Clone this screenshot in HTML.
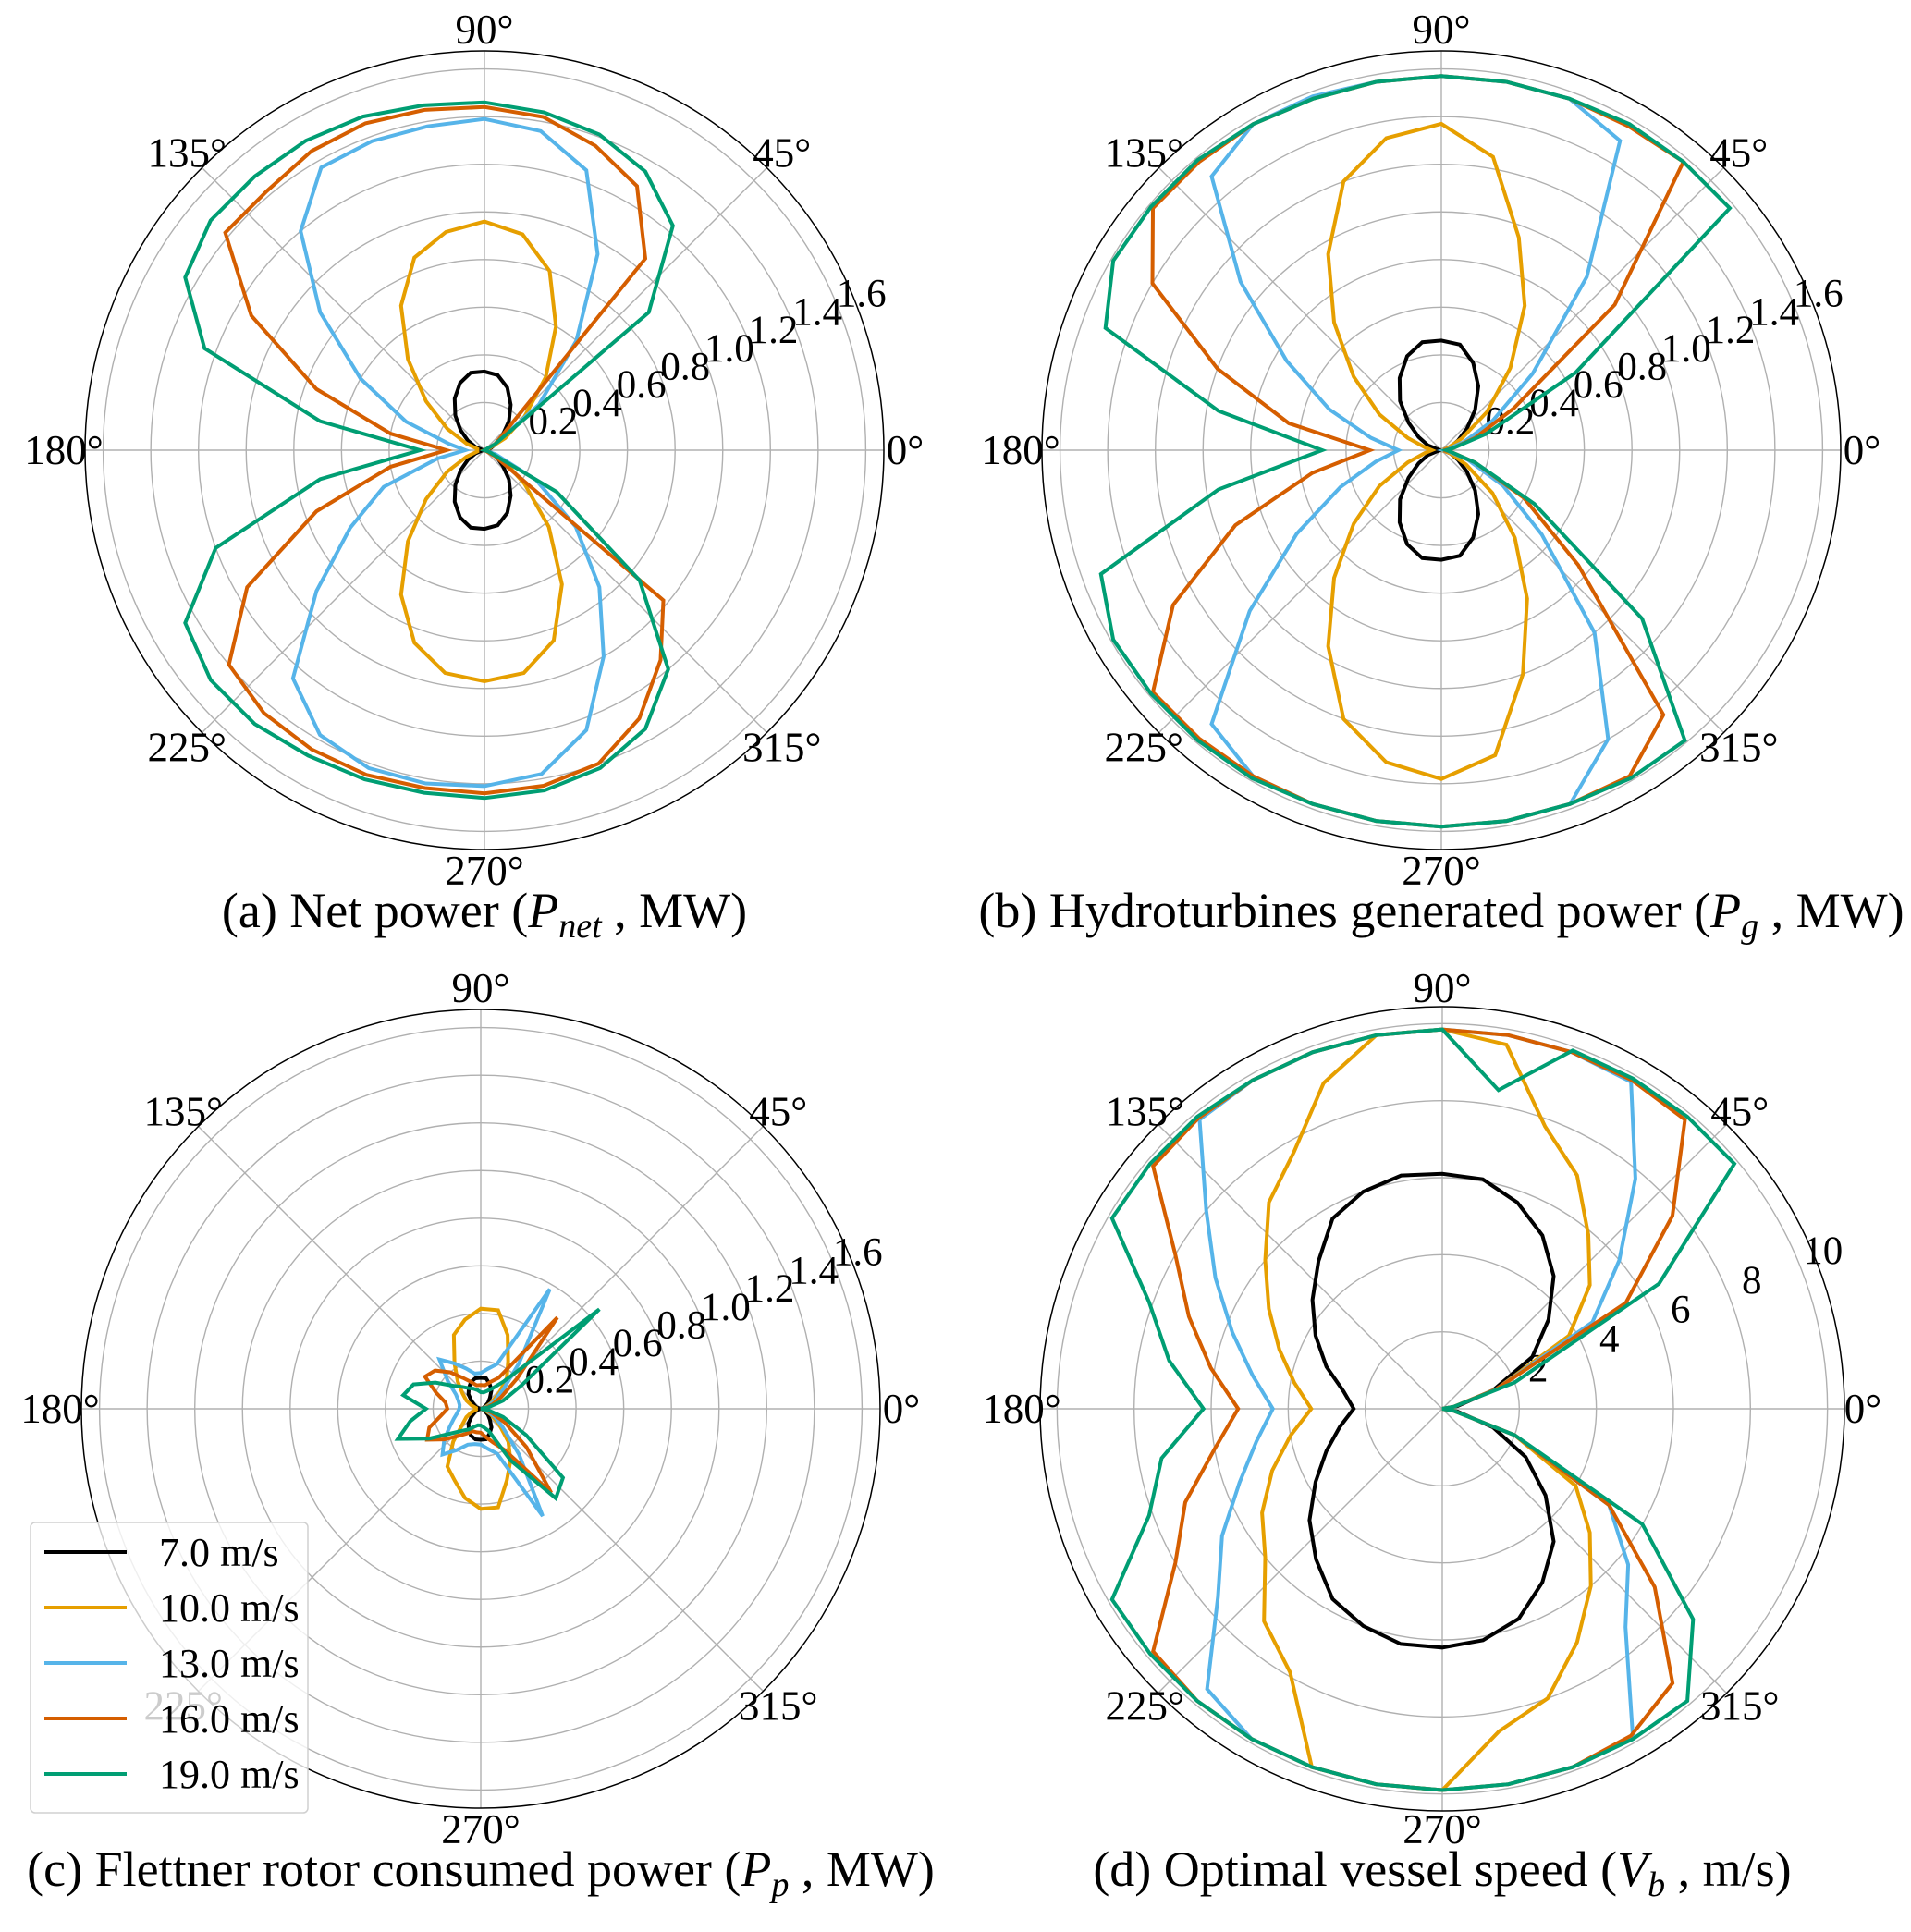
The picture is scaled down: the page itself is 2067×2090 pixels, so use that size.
<!DOCTYPE html>
<html><head><meta charset="utf-8"><style>
html,body{margin:0;padding:0;background:#fff;}
svg{display:block;font-family:"Liberation Serif",serif;}
</style></head><body>
<svg id="fig" width="2067" height="2090" viewBox="0 0 2067 2090" xmlns="http://www.w3.org/2000/svg"></svg>
<script>
const angles=[0,10,20,30,40,50,60,70,80,90,100,110,120,130,140,150,160,170,180,190,200,210,220,230,240,250,260,270,280,290,300,310,320,330,340,350];
const seriesLabels=["7.0 m/s","10.0 m/s","13.0 m/s","16.0 m/s","19.0 m/s"];
const powerTicks=[0.2,0.4,0.6,0.8,1.0,1.2,1.4,1.6];
const powerTickLabels=["0.2","0.4","0.6","0.8","1.0","1.2","1.4","1.6"];
const speedTicks=[2,4,6,8,10];
const speedTickLabels=["2","4","6","8","10"];
const angleTicks=[0,45,90,135,180,225,270,315];
const angleTickLabels=["0°","45°","90°","135°","180°","225°","270°","315°"];

const net7=[0,0.01,0.03,0.06,0.1,0.16,0.22,0.28,0.32,0.33,0.33,0.3,0.25,0.19,0.13,0.08,0.04,0.01,0,0.01,0.04,0.08,0.13,0.19,0.25,0.3,0.33,0.33,0.32,0.28,0.22,0.16,0.1,0.06,0.03,0.01];
const net10=[0,0,0.02,0.1,0.22,0.4,0.6,0.8,0.92,0.96,0.93,0.86,0.7,0.5,0.32,0.18,0.08,0.03,0.03,0.03,0.08,0.18,0.32,0.5,0.7,0.86,0.95,0.97,0.95,0.85,0.65,0.42,0.22,0.1,0.02,0];
const net13=[0,0,0,0.05,0.3,0.6,0.95,1.25,1.36,1.39,1.38,1.38,1.37,1.2,0.9,0.6,0.35,0.15,0.08,0.2,0.45,0.65,0.92,1.25,1.38,1.42,1.42,1.41,1.38,1.25,1.0,0.75,0.5,0.25,0.05,0];
const net16=[0,0,0,0.05,0.1,1.05,1.28,1.36,1.42,1.44,1.45,1.46,1.45,1.42,1.42,1.13,0.75,0.4,0.16,0.4,0.75,1.15,1.4,1.44,1.45,1.45,1.44,1.44,1.43,1.4,1.3,1.15,0.98,0.05,0,0];
const net19=[0,0,0,0.05,0.9,1.23,1.35,1.41,1.44,1.46,1.47,1.49,1.5,1.5,1.5,1.45,1.25,0.7,0.27,0.7,1.2,1.45,1.5,1.5,1.48,1.47,1.46,1.46,1.45,1.42,1.35,1.2,0.85,0.35,0.02,0];

const gen7=[0,0.01,0.04,0.08,0.14,0.22,0.31,0.39,0.45,0.46,0.46,0.42,0.35,0.27,0.18,0.11,0.06,0.01,0,0.01,0.06,0.11,0.18,0.27,0.35,0.42,0.46,0.46,0.45,0.39,0.31,0.22,0.14,0.08,0.04,0.01];
const gen10=[0,0.01,0.03,0.1,0.25,0.45,0.7,0.95,1.25,1.37,1.33,1.2,0.95,0.7,0.48,0.3,0.15,0.07,0.04,0.07,0.15,0.3,0.48,0.7,0.95,1.2,1.33,1.38,1.3,1.0,0.72,0.48,0.28,0.12,0.04,0.01];
const gen13=[0.01,0.03,0.1,0.25,0.5,0.95,1.5,1.57,1.57,1.57,1.57,1.58,1.58,1.5,1.1,0.75,0.5,0.3,0.18,0.28,0.45,0.7,1.05,1.5,1.58,1.58,1.58,1.58,1.58,1.58,1.4,1.0,0.55,0.3,0.12,0.03];
const gen16=[0.01,0.05,0.15,0.35,0.95,1.58,1.57,1.57,1.57,1.57,1.57,1.57,1.58,1.58,1.58,1.4,1.0,0.65,0.3,0.55,0.92,1.3,1.58,1.58,1.58,1.58,1.58,1.58,1.58,1.58,1.58,1.45,0.75,0.4,0.15,0.04];
const gen19=[0.02,0.05,0.2,0.65,1.58,1.58,1.58,1.57,1.57,1.57,1.57,1.57,1.58,1.59,1.59,1.59,1.5,0.95,0.5,0.95,1.52,1.59,1.59,1.59,1.59,1.58,1.58,1.58,1.58,1.58,1.59,1.59,1.1,0.45,0.15,0.04];

const rot7=[0,0,0.01,0.02,0.04,0.06,0.09,0.11,0.13,0.13,0.13,0.12,0.1,0.08,0.05,0.03,0.02,0,0,0,0.02,0.03,0.05,0.08,0.1,0.12,0.13,0.13,0.13,0.11,0.09,0.06,0.04,0.02,0.01,0];
const rot10=[0,0.01,0.02,0.05,0.1,0.17,0.23,0.33,0.42,0.42,0.38,0.33,0.22,0.15,0.1,0.07,0.04,0.02,0.02,0.02,0.04,0.07,0.1,0.18,0.28,0.32,0.38,0.42,0.42,0.32,0.25,0.18,0.1,0.05,0.02,0.01];
const rot13=[0,0.01,0.03,0.07,0.12,0.25,0.58,0.2,0.17,0.15,0.15,0.18,0.22,0.27,0.18,0.12,0.1,0.09,0.09,0.1,0.12,0.15,0.2,0.25,0.2,0.16,0.15,0.15,0.17,0.2,0.52,0.25,0.12,0.07,0.03,0.01];
const rot16=[0,0.02,0.05,0.1,0.2,0.5,0.15,0.12,0.1,0.1,0.1,0.12,0.15,0.2,0.25,0.27,0.2,0.15,0.14,0.17,0.23,0.26,0.2,0.15,0.12,0.1,0.1,0.1,0.12,0.15,0.2,0.46,0.25,0.12,0.05,0.02];
const rot19=[0,0.03,0.1,0.2,0.65,0.15,0.1,0.08,0.07,0.07,0.08,0.09,0.1,0.12,0.15,0.22,0.3,0.33,0.23,0.3,0.37,0.25,0.16,0.12,0.1,0.08,0.07,0.07,0.08,0.1,0.25,0.49,0.45,0.22,0.1,0.03];

const spd7=[0,0.4,1.4,2.7,3.6,4.5,5.2,5.7,6.05,6.1,6.15,6.0,5.7,5.0,4.4,3.8,3.2,2.6,2.3,2.7,3.2,3.8,4.5,5.1,5.7,6.0,6.2,6.2,6.1,5.8,5.2,4.5,3.5,2.5,1.4,0.4];
const spd10=[0,0.3,1.5,3.8,5.0,5.9,7.0,7.8,9.6,9.85,9.85,9.0,7.7,7.0,6.0,5.2,4.5,3.9,3.4,4.0,4.7,5.4,6.0,7.2,7.9,9.9,9.9,9.9,8.5,8.0,7.0,6.0,5.0,4.0,2.0,0.3];
const spd13=[0,0.3,1.5,4.5,6.0,7.8,9.8,9.85,9.85,9.85,9.85,9.85,9.85,9.8,8.0,6.8,5.8,5.0,4.4,4.9,5.6,6.6,7.6,9.5,9.9,9.9,9.9,9.9,9.9,9.9,9.9,7.4,6.3,5.0,2.0,0.3];
const spd16=[0,0.3,1.5,5.5,7.8,9.8,9.85,9.85,9.85,9.85,9.85,9.85,9.85,9.85,9.8,8.0,7.0,6.1,5.3,6.0,7.1,8.0,9.8,9.9,9.9,9.9,9.9,9.9,9.9,9.9,9.8,9.3,7.2,5.0,2.0,0.3];
const spd19=[0,0.3,2.0,6.5,9.9,9.9,9.9,9.9,8.4,9.85,9.85,9.85,9.85,9.9,9.9,9.9,8.1,7.2,6.2,7.4,8.1,9.9,9.9,9.9,9.9,9.9,9.9,9.9,9.9,9.9,9.9,9.9,8.5,6.0,2.0,0.3];

const colors=["#000000","#E69F00","#56B4E9","#D55E00","#009E73"];
const NS="http://www.w3.org/2000/svg";
const svg=document.getElementById("fig");
function mk(tag,attrs,parent){const e=document.createElementNS(NS,tag);for(const k in attrs)e.setAttribute(k,attrs[k]);(parent||svg).appendChild(e);return e;}

const panels=[
 {key:"a",cx:524,cy:487,R:432,rmax:1.676,ticks:powerTicks,tl:powerTickLabels,series:[net7,net10,net13,net16,net19],title:["(a) Net power (","P","net"," , MW)"]},
 {key:"b",cx:1559,cy:487,R:432,rmax:1.676,ticks:powerTicks,tl:powerTickLabels,series:[gen7,gen10,gen13,gen16,gen19],title:["(b) Hydroturbines generated power (","P","g"," , MW)"]},
 {key:"c",cx:520,cy:1524,R:432,rmax:1.676,ticks:powerTicks,tl:powerTickLabels,series:[rot7,rot10,rot13,rot16,rot19],title:["(c) Flettner rotor consumed power (","P","p"," , MW)"]},
 {key:"d",cx:1560,cy:1524,R:435,rmax:10.44,ticks:speedTicks,tl:speedTickLabels,series:[spd7,spd10,spd13,spd16,spd19],title:["(d) Optimal vessel speed (","V","b"," , m/s)"]}
];

panels.forEach(p=>{
 const g=mk("g",{});
 
 
 const rs=v=>v/p.rmax*p.R;
 const px=(a,r)=>p.cx+r*Math.cos(a*Math.PI/180);
 const py=(a,r)=>p.cy-r*Math.sin(a*Math.PI/180);
 p.ticks.forEach(t=>{
  const c=mk("circle",{cx:p.cx,cy:p.cy,r:rs(t),fill:"none",stroke:"#b0b0b0","stroke-width":1.4},g);
  
  
 });
 angleTicks.forEach(a=>{
  const l=mk("line",{x1:p.cx,y1:p.cy,x2:px(a,p.R),y2:py(a,p.R),stroke:"#b0b0b0","stroke-width":1.4},g);
  
  
 });
 const oc=mk("circle",{cx:p.cx,cy:p.cy,r:p.R,fill:"none",stroke:"#000","stroke-width":1.5},g);
 
 
 angleTicks.forEach((a,i)=>{
  const t=mk("text",{x:px(a,455),y:py(a,455),"text-anchor":"middle","dominant-baseline":"central","font-size":45,fill:"#000"},g);
  t.textContent=angleTickLabels[i];
  
  
 });
 p.ticks.forEach((v,i)=>{
  const r=rs(v)+29;
  const t=mk("text",{x:px(22.5,r),y:py(22.5,r),"text-anchor":"middle","dominant-baseline":"central","font-size":43,fill:"#000"},g);
  t.textContent=p.tl[i];
  
  
 });
 p.series.forEach((vals,si)=>{
  let d="";
  vals.forEach((v,k)=>{d+=(k?"L":"M")+px(angles[k],rs(v)).toFixed(1)+","+py(angles[k],rs(v)).toFixed(1);});
  d+="Z";
  const path=mk("path",{d:d,fill:"none",stroke:colors[si],"stroke-width":4,"stroke-linejoin":"miter"},g);
  
  
 });
 const ty=p.cy+516;
 const tt=mk("text",{x:p.cx,y:ty,"text-anchor":"middle","font-size":54,fill:"#000"},g);
 
 
 const s1=mk("tspan",{},tt);s1.textContent=p.title[0];
 const s2=mk("tspan",{"font-style":"italic"},tt);s2.textContent=p.title[1];
 const s3=mk("tspan",{"font-style":"italic","font-size":38,dy:11},tt);s3.textContent=p.title[2];
 const s4=mk("tspan",{dy:-11},tt);s4.textContent=p.title[3];
});

const lg=mk("g",{});


const lb=mk("rect",{x:33,y:1647,width:300,height:314,rx:5,fill:"#fff","fill-opacity":0.8,stroke:"#d0d0d0","stroke-width":1.5},lg);


seriesLabels.forEach((lab,i)=>{
 const y=1679+i*60;
 const l=mk("line",{x1:48,y1:y,x2:137,y2:y,stroke:colors[i],"stroke-width":4},lg);
 
 
 const t=mk("text",{x:172,y:y+15,"font-size":44,fill:"#000"},lg);
 t.textContent=lab;
 
 
});
</script>
</body></html>
